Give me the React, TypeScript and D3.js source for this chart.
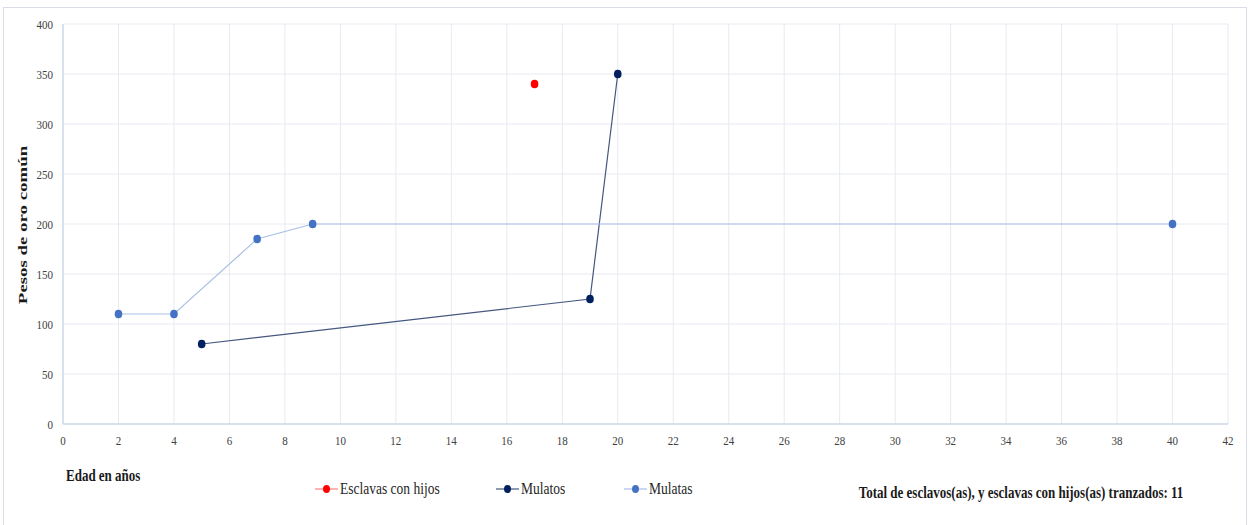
import React from "react";
import * as d3 from "d3";

const xTicks = [0, 2, 4, 6, 8, 10, 12, 14, 16, 18, 20, 22, 24, 26, 28, 30, 32, 34, 36, 38, 40, 42];
const yTicks = [0, 50, 100, 150, 200, 250, 300, 350, 400];

const esclavasX = [17];
const esclavasY = [340];
const mulatosX = [5, 19, 20];
const mulatosY = [80, 125, 350];
const mulatasX = [2, 4, 7, 9, 40];
const mulatasY = [110, 110, 185, 200, 200];

const seriesNames = ["Esclavas con hijos", "Mulatos", "Mulatas"];

const W = 1252;
const H = 525;
const left = 63, right = 1228, top = 24, bottom = 424;
const font = "'Liberation Serif', 'Times New Roman', serif";

function ST(props: { x: number; y: number; sy?: number; size: number; anchor?: string; bold?: boolean; fill?: string; children: React.ReactNode }) {
  const sy = props.sy ?? 1.25;
  return (
    <text
      transform={`translate(${props.x},${props.y}) scale(1,${sy})`}
      textAnchor={props.anchor || "start"}
      fontFamily={font}
      fontSize={props.size}
      fontWeight={props.bold ? "bold" : "normal"}
      fill={props.fill || "#404040"}
    >
      {props.children}
    </text>
  );
}

export default function App() {
  const x = d3.scaleLinear().domain([0, 42]).range([left, right]);
  const y = d3.scaleLinear().domain([0, 400]).range([bottom, top]);
  const line = d3.line<[number, number]>().x(d => x(d[0])).y(d => y(d[1]));

  const series = [
    { name: seriesNames[0], xs: esclavasX, ys: esclavasY, line: "#ff8080", marker: "#ff0000" },
    { name: seriesNames[1], xs: mulatosX, ys: mulatosY, line: "#44577f", marker: "#002060" },
    { name: seriesNames[2], xs: mulatasX, ys: mulatasY, line: "#a9bfe6", marker: "#4472c4" },
  ];

  const legendX = [315, 496, 624];

  return (
    <svg width={W} height={H} style={{ position: "absolute", left: 0, top: 0, background: "#fff" }}>
      <rect x={3.5} y={7.5} width={1243} height={530} fill="#fff" stroke="#d9dde6" strokeWidth={1} />
      {xTicks.map(t => (
        <line key={"gx" + t} x1={x(t)} x2={x(t)} y1={top} y2={bottom} stroke="#e7eaf1" strokeWidth={1} />
      ))}
      {yTicks.map(t => (
        <line key={"gy" + t} x1={left} x2={right} y1={y(t)} y2={y(t)} stroke="#e7eaf1" strokeWidth={1} />
      ))}
      <line x1={left} x2={right} y1={bottom} y2={bottom} stroke="#c3cde0" strokeWidth={1} />
      <line x1={left} x2={left} y1={top} y2={bottom} stroke="#c3cde0" strokeWidth={1} />
      {yTicks.map(t => (
        <ST key={"ty" + t} x={53} y={y(t) + 4.5} size={11} sy={1.2} anchor="end">{t}</ST>
      ))}
      {xTicks.map(t => (
        <ST key={"tx" + t} x={x(t)} y={445} size={11} sy={1.2} anchor="middle">{t}</ST>
      ))}
      <text transform={`translate(27,225) rotate(-90) scale(1.45,1)`} textAnchor="middle" fontFamily={font} fontSize={13} fontWeight="bold" fill="#1a1a1a">Pesos de oro común</text>
      <ST x={66} y={481} size={13} sy={1.3} bold fill="#1a1a1a">Edad en años</ST>
      <ST x={1021} y={498} size={13} sy={1.3} anchor="middle" bold fill="#1a1a1a">Total de esclavos(as), y esclavas con hijos(as) tranzados: 11</ST>

      {series.map(s => {
        const pts = s.xs.map((v, i) => [v, s.ys[i]] as [number, number]);
        return (
          <g key={s.name}>
            {pts.length > 1 && <path d={line(pts) || ""} fill="none" stroke={s.line} strokeWidth={1.2} />}
            {pts.map((p, i) => (
              <ellipse key={i} cx={x(p[0])} cy={y(p[1])} rx={3.8} ry={4.3} fill={s.marker} />
            ))}
          </g>
        );
      })}

      {series.map((s, i) => (
        <g key={"lg" + s.name}>
          <line x1={legendX[i]} x2={legendX[i] + 23} y1={489} y2={489} stroke={s.line} strokeWidth={1.2} />
          <ellipse cx={legendX[i] + 11.5} cy={489} rx={3.5} ry={4} fill={s.marker} />
          <ST x={legendX[i] + 25} y={494} size={13.5} sy={1.3} fill="#262626">{s.name}</ST>
        </g>
      ))}
    </svg>
  );
}
